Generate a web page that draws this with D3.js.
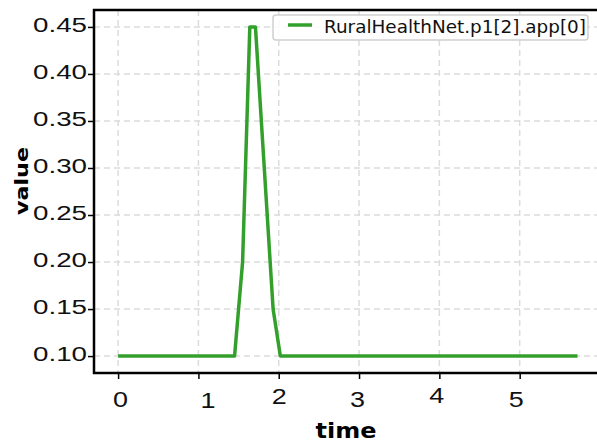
<!DOCTYPE html>
<html lang="en">
  <head>
    <meta charset="utf-8">
    <title>value over time</title>
    <script type="text/javascript" src="https://cdn.jsdelivr.net/npm/d3@7"></script>
    <style>
      body { margin: 0; background: #fff; }
      svg { display: block; font-family: "DejaVu Sans", sans-serif; }
      .grid line { stroke: #dcdcdc; stroke-width: 1.5; stroke-dasharray: 6,4; }
      .axis path { stroke: none; }
      .axis line { stroke: #000; stroke-width: 1.5; }
      .axis text { fill: #111; }
    </style>
  </head>
  <body>
    <script type="text/javascript">

    //Data
    var times  = [0, 1.45, 1.55, 1.64, 1.71, 1.93, 2.02, 5.72];
    var values = [0.1, 0.1, 0.2, 0.45, 0.45, 0.15, 0.1, 0.1];
    var seriesName = "RuralHealthNet.p1[2].app[0]";
    var xTicks = [0, 1, 2, 3, 4, 5];
    var yTicks = [0.10, 0.15, 0.20, 0.25, 0.30, 0.35, 0.40, 0.45];

    //Size and plot box (window.top is taken, so prefix with "plot")
    var w = 597;
    var h = 444;
    var plotLeft = 94, plotTop = 10, plotRight = 600, plotBottom = 373;

    //Scales
    var xScale = d3.scaleLinear().domain([-0.3, 6.0]).range([plotLeft, plotRight]);
    var yScale = d3.scaleLinear().domain([0.082, 0.468]).range([plotBottom, plotTop]);

    var svg = d3.select("body").append("svg")
        .attr("width", w)
        .attr("height", h);

    //Grid
    var grid = svg.append("g").attr("class", "grid");
    grid.selectAll(".gx").data(xTicks).enter().append("line")
        .attr("x1", function(d) { return xScale(d); })
        .attr("x2", function(d) { return xScale(d); })
        .attr("y1", plotTop).attr("y2", plotBottom);
    grid.selectAll(".gy").data(yTicks).enter().append("line")
        .attr("x1", plotLeft).attr("x2", plotRight)
        .attr("y1", function(d) { return yScale(d); })
        .attr("y2", function(d) { return yScale(d); });

    //Line
    var pts = times.map(function(t, i) { return [t, values[i]]; });
    var line = d3.line()
        .x(function(d) { return xScale(d[0]); })
        .y(function(d) { return yScale(d[1]); });
    svg.append("path")
        .datum(pts)
        .attr("d", line)
        .attr("fill", "none")
        .attr("stroke", "#33a02c")
        .attr("stroke-width", 3.5)
        .attr("stroke-linejoin", "round");

    //Axes
    var xAxis = d3.axisBottom(xScale).tickValues(xTicks)
        .tickFormat(d3.format("d")).tickSize(6).tickPadding(10);
    var yAxis = d3.axisLeft(yScale).tickValues(yTicks)
        .tickFormat(d3.format(".2f")).tickSize(6).tickPadding(1);

    var gx = svg.append("g").attr("class", "axis")
        .attr("transform", "translate(0," + plotBottom + ")")
        .call(xAxis);
    //the reference labels sit a bit unevenly
    var nudgeX = [2, 9, 0, -2, -3, -4];
    var nudgeY = [0, 1, -3, 0, -4, 0];
    gx.selectAll("text")
        .attr("font-size", 22)
        .attr("dy", "0.82em")
        .attr("textLength", 15).attr("lengthAdjust", "spacingAndGlyphs")
        .attr("transform", function(d, i) { return "translate(" + nudgeX[i] + "," + nudgeY[i] + ")"; });

    var gy = svg.append("g").attr("class", "axis")
        .attr("transform", "translate(" + plotLeft + ",0)")
        .call(yAxis);
    gy.selectAll("text")
        .attr("font-size", 19.5)
        .attr("x", -7)
        .attr("dy", "0.22em")
        .attr("textLength", 54).attr("lengthAdjust", "spacingAndGlyphs");

    //Spines
    svg.append("path")
        .attr("d", "M" + plotRight + "," + plotTop + "H" + plotLeft + "V" + plotBottom + "H" + plotRight)
        .attr("fill", "none")
        .attr("stroke", "#000")
        .attr("stroke-width", 2.5);

    //Axis titles
    svg.append("text")
        .attr("x", 346).attr("y", 438)
        .attr("text-anchor", "middle")
        .attr("font-size", 21).attr("font-weight", "bold")
        .attr("textLength", 61).attr("lengthAdjust", "spacingAndGlyphs")
        .text("time");
    svg.append("text")
        .attr("transform", "translate(28,181) rotate(-90)")
        .attr("text-anchor", "middle")
        .attr("font-size", 17).attr("font-weight", "bold")
        .attr("textLength", 68).attr("lengthAdjust", "spacingAndGlyphs")
        .text("value");

    //Legend
    var lg = svg.append("g");
    lg.append("rect")
        .attr("x", 273).attr("y", 15).attr("width", 315).attr("height", 25)
        .attr("rx", 3)
        .attr("fill", "#fff").attr("fill-opacity", 0.85)
        .attr("stroke", "#d0d0d0").attr("stroke-width", 1.5);
    lg.append("line")
        .attr("x1", 288).attr("x2", 312).attr("y1", 25).attr("y2", 25)
        .attr("stroke", "#33a02c").attr("stroke-width", 3.5);
    lg.append("text")
        .attr("x", 324).attr("y", 33)
        .attr("font-size", 17.5)
        .attr("fill", "#111")
        .attr("textLength", 262).attr("lengthAdjust", "spacingAndGlyphs")
        .text(seriesName);

    </script>
  </body>
</html>
